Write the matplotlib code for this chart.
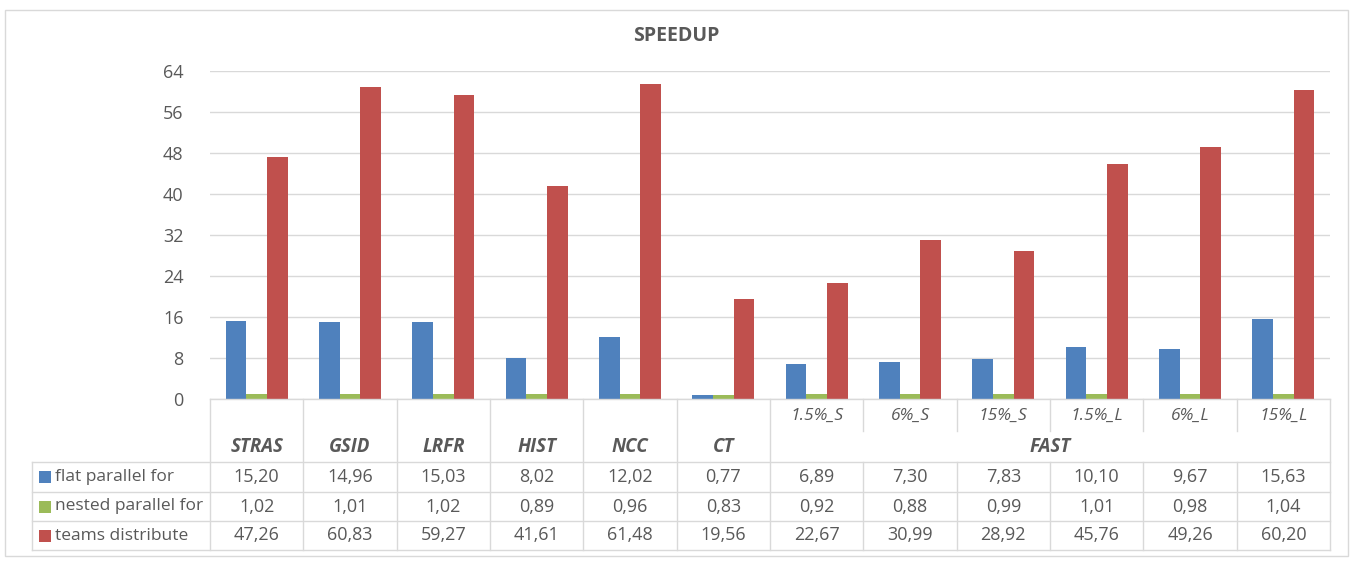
import numpy as np
import matplotlib
matplotlib.use("Agg")
import matplotlib.pyplot as plt
from matplotlib.transforms import blended_transform_factory
from matplotlib.lines import Line2D
from matplotlib.patches import Rectangle

plt.rcParams['font.family'] = ['Open Sans', 'DejaVu Sans']

main_labels = ["STRAS", "GSID", "LRFR", "HIST", "NCC", "CT"]
group_label = "FAST"
sub_labels = ["1.5%_S", "6%_S", "15%_S", "1.5%_L", "6%_L", "15%_L"]
series_names = ["flat parallel for", "nested parallel for", "teams distribute"]
flat = [15.20, 14.96, 15.03, 8.02, 12.02, 0.77, 6.89, 7.30, 7.83, 10.10, 9.67, 15.63]
nested = [1.02, 1.01, 1.02, 0.89, 0.96, 0.83, 0.92, 0.88, 0.99, 1.01, 0.98, 1.04]
teams = [47.26, 60.83, 59.27, 41.61, 61.48, 19.56, 22.67, 30.99, 28.92, 45.76, 49.26, 60.20]
yticks = [0, 8, 16, 24, 32, 40, 48, 56, 64]

colors = ["#4F81BD", "#9BBB59", "#C0504D"]
txt = "#595959"
grid = "#D9D9D9"
W, H = 1353, 561

fig = plt.figure(figsize=(W / 100, H / 100), dpi=100)

def fx(px):
    return px / W

def fy(py):
    return 1 - py / H

# outer frame
fig.patches.append(Rectangle((fx(5), fy(556)), fx(1343), (546) / H, transform=fig.transFigure,
                             fill=False, edgecolor=grid, linewidth=1))

ax = fig.add_axes([fx(210), fy(399), fx(1330) - fx(210), fy(71) - fy(399)])
series = [flat, nested, teams]
n = len(flat)
x = np.arange(n)
bw = 0.222
offs = [-0.222, 0.0, 0.222]
for s, vals, c, o in zip(series_names, series, colors, offs):
    ax.bar(x + o, vals, width=bw, color=c, zorder=3, label=s)
ax.set_xlim(-0.5, n - 0.5)
ax.set_ylim(0, 64)
ax.set_yticks(yticks)
ax.set_yticklabels([str(t) for t in yticks], fontsize=13, color=txt)
ax.tick_params(axis='y', length=0, pad=19)
ax.set_xticks([])
for sp in ax.spines.values():
    sp.set_visible(False)
ax.yaxis.grid(True, color=grid, linewidth=1, zorder=0)
ax.set_axisbelow(True)

fig.text(fx(676), fy(36), "SPEEDUP", ha='center', va='center', fontsize=14,
         fontweight='bold', color=txt)

tr = blended_transform_factory(ax.transData, fig.transFigure)
line_c = "#D9D9D9"

def hline(x0, x1, py, transform=tr):
    fig.lines.append(Line2D([x0, x1], [fy(py), fy(py)], transform=transform, color=line_c, linewidth=1))

def vline(xd, py0, py1, transform=tr):
    fig.lines.append(Line2D([xd, xd], [fy(py0), fy(py1)], transform=transform, color=line_c, linewidth=1))

# horizontal lines
hline(-0.5, n - 0.5, 399)
for py in [462, 492, 521, 550]:
    fig.lines.append(Line2D([fx(32), fx(1330)], [fy(py), fy(py)], transform=fig.transFigure,
                            color=line_c, linewidth=1))
# left legend column
fig.lines.append(Line2D([fx(32), fx(32)], [fy(462), fy(550)], transform=fig.transFigure,
                        color=line_c, linewidth=1))
# vertical boundaries
nm = len(main_labels)
for k in range(n + 1):
    b = -0.5 + k
    if k <= nm or k == n:
        vline(b, 399, 550)
    else:
        vline(b, 399, 431)
        vline(b, 462, 550)

# category labels
for i, lab in enumerate(main_labels):
    fig.text(i, fy(447), lab, transform=tr, ha='center', va='center', fontsize=13.5,
             fontweight='bold', fontstyle='italic', color=txt)
for j, lab in enumerate(sub_labels):
    fig.text(nm + j, fy(416), lab, transform=tr, ha='center', va='center', fontsize=12.5,
             fontstyle='italic', color=txt)
fig.text((nm + n - 1) / 2, fy(447), group_label, transform=tr, ha='center', va='center',
         fontsize=13.5, fontweight='bold', fontstyle='italic', color=txt)

# data rows
row_y = [477, 506.5, 535.5]
for r, (s, vals, c) in enumerate(zip(series_names, series, colors)):
    py = row_y[r]
    fig.patches.append(Rectangle((fx(39), fy(py + 6)), 12 / W, 12 / H, transform=fig.transFigure,
                                 facecolor=c, edgecolor='none'))
    fig.text(fx(55), fy(py), s, ha='left', va='center', fontsize=12.5, color=txt)
    for i, v in enumerate(vals):
        fig.text(i, fy(py), f"{v:.2f}".replace('.', ','), transform=tr, ha='center', va='center',
                 fontsize=13, color=txt)

fig.savefig("out.png", dpi=100)
